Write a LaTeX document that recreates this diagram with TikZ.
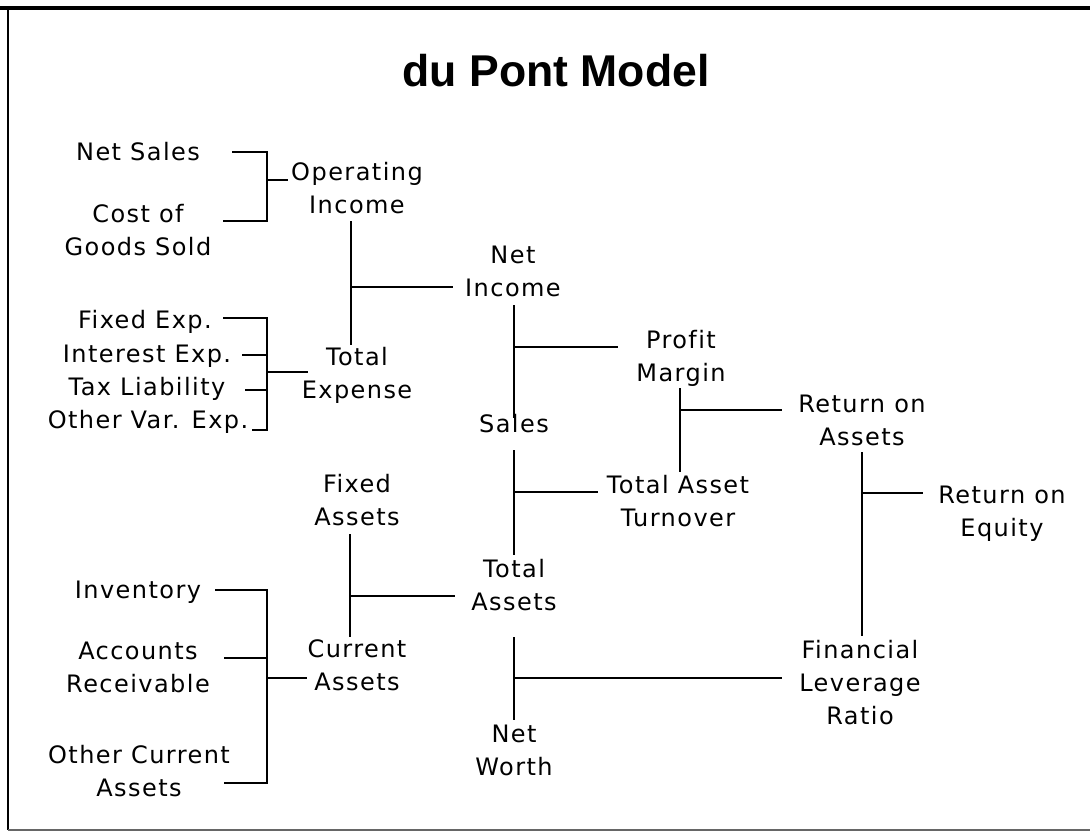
\documentclass[tikz,border=0pt]{standalone}
\usepackage{fontspec}
\setmainfont{Liberation Sans}
\newfontfamily\bodyfont[LetterSpace=6,Ligatures=NoCommon]{DejaVu Sans}
\newfontfamily\titlefont{Liberation Sans}
\begin{document}
\begin{tikzpicture}[x=0.75pt,y=-0.75pt,
  lbl/.style={anchor=base, inner sep=0pt, font=\bodyfont\fontsize{18}{25}\selectfont},
  ttl/.style={anchor=base, inner sep=0pt, font=\titlefont\bfseries\fontsize{33.4}{40}\selectfont},
  conn/.style={line width=1.4pt, line cap=butt, line join=miter},
  frametop/.style={line width=2.8pt},
  frameside/.style={line width=1.5pt},
  framebot/.style={line width=1.1pt, black!60}]
\useasboundingbox (0,0) rectangle (1090,832);
\newcommand{\two}[2]{\begin{tabular}[t]{@{}c@{}}#1\\#2\end{tabular}}
\newcommand{\three}[3]{\begin{tabular}[t]{@{}c@{}}#1\\#2\\#3\end{tabular}}

% frame
\coordinate (ftl) at (8,8);
\coordinate (ftr) at (1090,8);
\coordinate (fbl) at (8,830);
\coordinate (fbr) at (1090,830);
\draw[frametop] (0,8) -- (ftr);
\draw[frameside] (ftl) -- (fbl);
\draw[framebot] (fbl) -- (fbr);

% title
\node[ttl] (title) at (556,86) {du Pont Model};

% labels
\node[lbl] (netsales) at (138,160) {Net Sales};
\node[lbl] (cogs) at (138,222) {\two{Cost of}{Goods Sold}};
\node[lbl] (opinc) at (357,180) {\two{Operating}{Income}};
\node[lbl] (fixexp) at (145,328) {Fixed Exp.};
\node[lbl] (intexp) at (147,362) {Interest Exp.};
\node[lbl] (taxlia) at (147,395) {Tax Liability};
\node[lbl] (othvar) at (148,428) {Other Var. Exp.};
\node[lbl] (totexp) at (357,365) {\two{Total}{Expense}};
\node[lbl] (netinc) at (513,263) {\two{Net}{Income}};
\node[lbl] (sales) at (514,432) {Sales};
\node[lbl] (profit) at (681,348) {\two{Profit}{Margin}};
\node[lbl] (tat) at (678,493) {\two{Total Asset}{Turnover}};
\node[lbl] (roa) at (862,412) {\two{Return on}{Assets}};
\node[lbl] (roe) at (1002,503) {\two{Return on}{Equity}};
\node[lbl] (fixass) at (357,492) {\two{Fixed}{Assets}};
\node[lbl] (totass) at (514,577) {\two{Total}{Assets}};
\node[lbl] (inv) at (138,598) {Inventory};
\node[lbl] (accrec) at (138,659) {\two{Accounts}{Receivable}};
\node[lbl] (curass) at (357,657) {\two{Current}{Assets}};
\node[lbl] (othcur) at (139,763) {\two{Other Current}{Assets}};
\node[lbl] (netw) at (514,742) {\two{Net}{Worth}};
\node[lbl] (flr) at (860,658) {\three{Financial}{Leverage}{Ratio}};

% Operating income bracket
\coordinate (ns-e) at (232,152);
\coordinate (cg-e) at (223,221);
\coordinate (oi-w) at (288,180);
\coordinate (oi-j) at (267,180);
\draw[conn] (ns-e) -| (oi-j) |- (cg-e);
\draw[conn] (oi-j) -- (oi-w);

% Total expense bracket
\coordinate (fe-e) at (223,318);
\coordinate (ie-e) at (242,355);
\coordinate (tl-e) at (245,390);
\coordinate (ov-e) at (252,430);
\coordinate (te-j) at (267,372);
\coordinate (te-w) at (308,372);
\draw[conn] (fe-e) -| (te-j) |- (ov-e);
\draw[conn] (ie-e) -- (ie-e -| te-j);
\draw[conn] (tl-e) -- (tl-e -| te-j);
\draw[conn] (te-j) -- (te-w);

% Operating income - total expense -> net income
\coordinate (oi-s) at (351,221);
\coordinate (te-n) at (351,345);
\coordinate (ni-j) at (351,287);
\coordinate (ni-w) at (453,287);
\draw[conn] (oi-s) -- (te-n);
\draw[conn] (ni-j) -- (ni-w);

% Net income - sales -> profit margin
\coordinate (ni-s) at (514,305);
\coordinate (sa-n) at (514,418);
\coordinate (pm-j) at (514,347);
\coordinate (pm-w) at (618,347);
\draw[conn] (ni-s) -- (sa-n);
\draw[conn] (pm-j) -- (pm-w);

% Sales - total assets -> total asset turnover
\coordinate (sa-s) at (514,450);
\coordinate (ta-n) at (514,555);
\coordinate (tat-j) at (514,492);
\coordinate (tat-w) at (598,492);
\draw[conn] (sa-s) -- (ta-n);
\draw[conn] (tat-j) -- (tat-w);

% Profit margin - TAT -> ROA
\coordinate (pm-s) at (680,388);
\coordinate (tat-n) at (680,472);
\coordinate (roa-j) at (680,410);
\coordinate (roa-w) at (782,410);
\draw[conn] (pm-s) -- (tat-n);
\draw[conn] (roa-j) -- (roa-w);

% ROA - FLR -> ROE
\coordinate (roa-s) at (862,452);
\coordinate (flr-n) at (862,636);
\coordinate (roe-j) at (862,493);
\coordinate (roe-w) at (923,493);
\draw[conn] (roa-s) -- (flr-n);
\draw[conn] (roe-j) -- (roe-w);

% Fixed assets - current assets -> total assets
\coordinate (fa-s) at (350,534);
\coordinate (ca-n) at (350,637);
\coordinate (ta-j) at (350,596);
\coordinate (ta-w) at (455,596);
\draw[conn] (fa-s) -- (ca-n);
\draw[conn] (ta-j) -- (ta-w);

% Current assets bracket
\coordinate (in-e) at (215,590);
\coordinate (ar-e) at (224,658);
\coordinate (oc-e) at (224,783);
\coordinate (ca-j) at (267,678);
\coordinate (ca-w) at (307,678);
\draw[conn] (in-e) -| (ca-j) |- (oc-e);
\draw[conn] (ar-e) -- (ar-e -| ca-j);
\draw[conn] (ca-j) -- (ca-w);

% Total assets - net worth -> FLR
\coordinate (ta-s) at (514,637);
\coordinate (nw-n) at (514,720);
\coordinate (flr-j) at (514,678);
\coordinate (flr-w) at (782,678);
\draw[conn] (ta-s) -- (nw-n);
\draw[conn] (flr-j) -- (flr-w);
\end{tikzpicture}
\end{document}
